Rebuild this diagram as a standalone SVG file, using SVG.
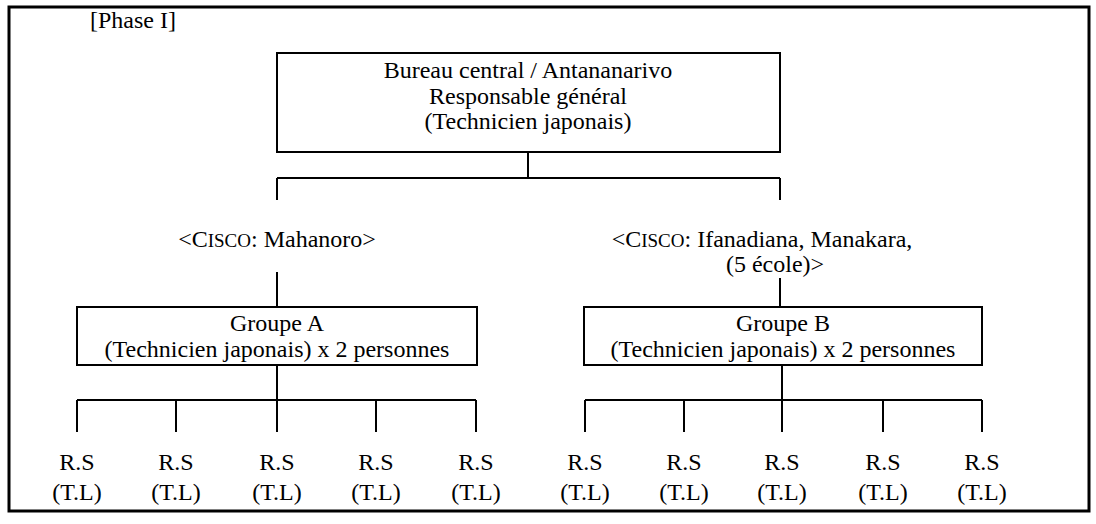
<svg xmlns="http://www.w3.org/2000/svg" width="1096" height="524" viewBox="0 0 1096 524" font-family="'Liberation Serif', 'Times New Roman', 'DejaVu Serif', serif">
<style>
text{font-family:'Liberation Serif','Times New Roman','DejaVu Serif',serif;font-size:24px;fill:#000;text-anchor:middle}
.box{fill:#fff;stroke:#000;stroke-width:2}
.ln{stroke:#000;stroke-width:2;fill:none}
.sc{font-size:19px}
</style>
<rect width="1096" height="524" fill="#fff"/>
<rect x="9" y="7" width="1080" height="504" fill="none" stroke="#000" stroke-width="3"/>
<text x="90" y="28" style="text-anchor:start">[Phase I]</text>
<g id="connectors">
<path class="ln" d="M528 152V178M277 178H780M277 178V200M780 178V200"/>
<path class="ln" d="M277 272V307M780 278V307"/>
<path class="ln" d="M277 365V400M77 400H476M77 400V432M176 400V432M277 400V432M376 400V432M476 400V432"/>
<path class="ln" d="M782 365V400M585 400H982M585 400V432M684 400V432M782 400V432M883 400V432M982 400V432"/>
</g>
<g id="central">
<rect class="box" x="277" y="53" width="503" height="99"/>
<text x="528" y="78">Bureau central / Antananarivo</text>
<text x="528" y="104">Responsable général</text>
<text x="528" y="129">(Technicien japonais)</text>
</g>
<g id="cisco-a"><text x="277" y="247">&lt;C<tspan class="sc">ISCO</tspan>: Mahanoro&gt;</text></g>
<g id="cisco-b"><text x="762" y="247">&lt;C<tspan class="sc">ISCO</tspan>: Ifanadiana, Manakara,</text><text x="775" y="272">(5 école)&gt;</text></g>
<g id="groupe-a">
<rect class="box" x="77" y="307" width="400" height="58"/>
<text x="277" y="331">Groupe A</text>
<text x="277" y="357">(Technicien japonais) x 2 personnes</text>
</g>
<g id="groupe-b">
<rect class="box" x="584" y="307" width="398" height="58"/>
<text x="783" y="331">Groupe B</text>
<text x="783" y="357">(Technicien japonais) x 2 personnes</text>
</g>
<g id="rs-a">
<g id="rs-a1"><text x="77" y="470">R.S</text><text x="77" y="500">(T.L)</text></g>
<g id="rs-a2"><text x="176" y="470">R.S</text><text x="176" y="500">(T.L)</text></g>
<g id="rs-a3"><text x="277" y="470">R.S</text><text x="277" y="500">(T.L)</text></g>
<g id="rs-a4"><text x="376" y="470">R.S</text><text x="376" y="500">(T.L)</text></g>
<g id="rs-a5"><text x="476" y="470">R.S</text><text x="476" y="500">(T.L)</text></g>
</g>
<g id="rs-b">
<g id="rs-b1"><text x="585" y="470">R.S</text><text x="585" y="500">(T.L)</text></g>
<g id="rs-b2"><text x="684" y="470">R.S</text><text x="684" y="500">(T.L)</text></g>
<g id="rs-b3"><text x="782" y="470">R.S</text><text x="782" y="500">(T.L)</text></g>
<g id="rs-b4"><text x="883" y="470">R.S</text><text x="883" y="500">(T.L)</text></g>
<g id="rs-b5"><text x="982" y="470">R.S</text><text x="982" y="500">(T.L)</text></g>
</g>
</svg>
